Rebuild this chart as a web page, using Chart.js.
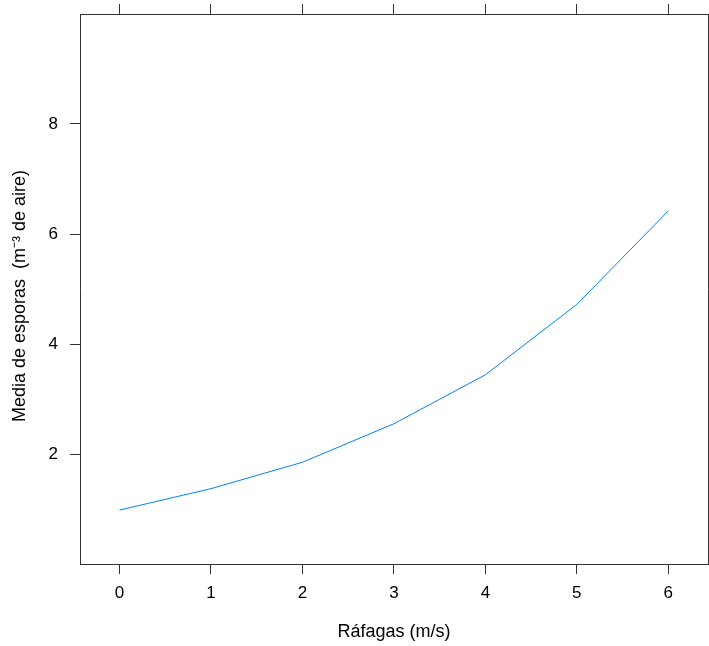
<!DOCTYPE html>
<html>
<head>
<meta charset="utf-8">
<script src="https://cdn.jsdelivr.net/npm/chart.js@4/dist/chart.umd.min.js"></script>
<style>
  html, body { margin: 0; padding: 0; background: #ffffff; }
  #wrap { width: 709px; height: 646px; }
</style>
</head>
<body>
<div id="wrap"><canvas id="c" width="709" height="646"></canvas></div>
<script>
// Data
const rafagas = [0, 1, 2, 3, 4, 5, 6];
const mediaEsporas = [0.98, 1.37, 1.85, 2.55, 3.44, 4.72, 6.42];
const xTickValues = [0, 1, 2, 3, 4, 5, 6];
const yTickValues = [2, 4, 6, 8];
const xTitle = 'Ráfagas (m/s)';
const yTitle = 'Media de esporas  (m\u207B\u00B3 de aire)';

const FONT = '"Liberation Sans", Arial, Helvetica, sans-serif';
const AX = '#333333';

const points = rafagas.map((x, i) => ({ x: x, y: mediaEsporas[i] }));

const xMin = -0.432, xMax = 6.434;
const yMin = 0, yMax = 10;

function setTicks(values) {
  return function (axis) { axis.ticks = values.map(v => ({ value: v })); };
}
function fixSize(w, h) {
  return function (a) {
    if (w !== null) a.width = w;
    if (h !== null) a.height = h;
    a.paddingTop = 0; a.paddingBottom = 0; a.paddingLeft = 0; a.paddingRight = 0;
  };
}

// Y-axis title, placed beside the left axis (slightly below the plot centre, as in the reference)
const yTitlePlugin = {
  id: 'yTitlePlugin',
  afterDraw(chart) {
    const ctx = chart.ctx;
    const area = chart.chartArea;
    ctx.save();
    ctx.translate(20, (area.top + area.bottom) / 2 + 7);
    ctx.rotate(-Math.PI / 2);
    ctx.font = '18px ' + FONT;
    ctx.fillStyle = '#000';
    ctx.textAlign = 'center';
    ctx.textBaseline = 'middle';
    ctx.fillText(yTitle, 0, 0);
    ctx.restore();
  }
};

new Chart(document.getElementById('c'), {
  type: 'line',
  data: {
    datasets: [{
      data: points,
      borderColor: '#0080ff',
      borderWidth: 1,
      pointRadius: 0,
      pointHoverRadius: 0,
      tension: 0,
      fill: false,
      xAxisID: 'x',
      yAxisID: 'y'
    }]
  },
  plugins: [yTitlePlugin],
  options: {
    responsive: false,
    animation: false,
    events: [],
    layout: { padding: 0 },
    plugins: { legend: { display: false }, tooltip: { enabled: false }, title: { display: false } },
    scales: {
      x: {
        type: 'linear', position: 'bottom', min: xMin, max: xMax,
        afterBuildTicks: setTicks(xTickValues),
        afterFit: fixSize(null, 82),
        border: { display: true, color: AX, width: 1 },
        grid: { drawOnChartArea: false, drawTicks: true, tickLength: 10, color: AX, lineWidth: 1 },
        ticks: { color: '#000', padding: 9, font: { family: FONT, size: 17 }, maxRotation: 0, autoSkip: false },
        title: { display: true, text: xTitle, color: '#000', font: { family: FONT, size: 18 }, padding: { top: 0, bottom: 3 } }
      },
      x2: {
        type: 'linear', position: 'top', min: xMin, max: xMax,
        afterBuildTicks: setTicks(xTickValues),
        afterFit: fixSize(null, 14),
        border: { display: true, color: AX, width: 1 },
        grid: { drawOnChartArea: false, drawTicks: true, tickLength: 10, color: AX, lineWidth: 1 },
        ticks: { display: false }
      },
      y: {
        type: 'linear', position: 'left', min: yMin, max: yMax,
        afterBuildTicks: setTicks(yTickValues),
        afterFit: fixSize(80, null),
        border: { display: true, color: AX, width: 1 },
        grid: { drawOnChartArea: false, drawTicks: true, tickLength: 10, color: AX, lineWidth: 1 },
        ticks: { color: '#000', padding: 12, font: { family: FONT, size: 17 } },
        title: { display: false }
      },
      y2: {
        type: 'linear', position: 'right', min: yMin, max: yMax,
        afterBuildTicks: setTicks(yTickValues),
        afterFit: fixSize(1, null),
        border: { display: true, color: AX, width: 1 },
        grid: { drawOnChartArea: false, drawTicks: true, tickLength: 10, color: AX, lineWidth: 1 },
        ticks: { display: false }
      }
    }
  }
});
</script>
</body>
</html>
